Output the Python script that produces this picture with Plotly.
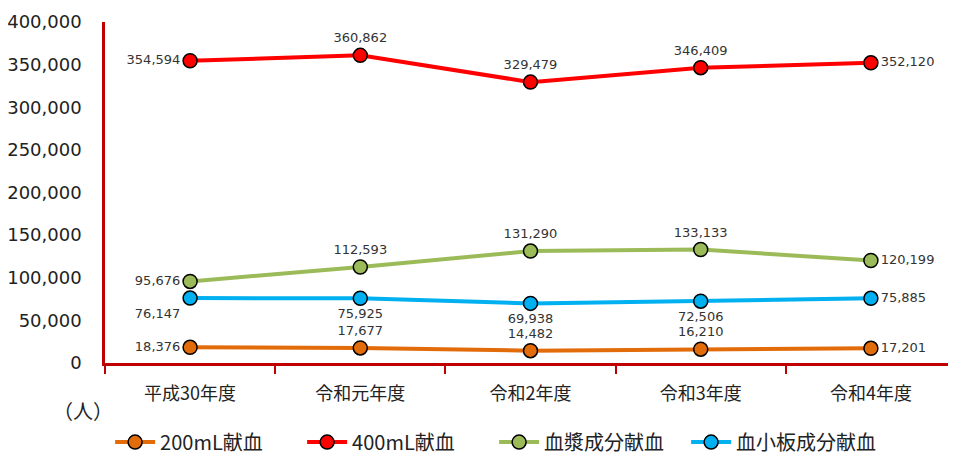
import plotly.graph_objects as go

categories = ["平成30年度", "令和元年度", "令和2年度", "令和3年度", "令和4年度"]
series_names = ["200mL献血", "400mL献血", "血漿成分献血", "血小板成分献血"]
v200 = [18376, 17677, 14482, 16210, 17201]
v400 = [354594, 360862, 329479, 346409, 352120]
plasma = [95676, 112593, 131290, 133133, 120199]
platelet = [76147, 75925, 69938, 72506, 75885]
y_ticks = [0, 50000, 100000, 150000, 200000, 250000, 300000, 350000, 400000]
unit_label = "（人）"

colors = ["#E36C0A", "#FF0000", "#9BBB59", "#00B0F0"]
positions = [
    ["middle left", "top center", "top center", "top center", "middle right"],
    ["middle left", "top center", "top center", "top center", "middle right"],
    ["middle left", "top center", "top center", "top center", "middle right"],
    ["bottom left", "bottom center", "bottom center", "bottom center", "middle right"],
]

FONT = "DejaVu Sans, Noto Sans CJK JP, sans-serif"
CJK = "Noto Sans CJK JP, sans-serif"
fig = go.Figure()
for name, vals, col, pos in zip(series_names, [v200, v400, plasma, platelet], colors, positions):
    fig.add_trace(go.Scatter(
        x=categories, y=vals, name=name, mode="lines+markers+text",
        line=dict(color=col, width=4),
        marker=dict(size=14, color=col, line=dict(color="black", width=1.5)),
        text=[f"{v:,}" for v in vals], textposition=pos,
        textfont=dict(family=FONT, size=13, color="#333333"),
        cliponaxis=False,
    ))

fig.update_layout(
    width=948, height=448,
    margin=dict(l=97, r=0, t=14, b=93, autoexpand=False),
    paper_bgcolor="white", plot_bgcolor="white",
    font=dict(family=FONT, color="#222222"),
    showlegend=True,
    legend=dict(orientation="h", x=0.006, y=-0.232, xanchor="left", yanchor="middle",
                font=dict(family=CJK, size=20, color="#222222"),
                itemwidth=40, tracegroupgap=0, entrywidth=137, entrywidthmode="pixels"),
    xaxis=dict(type="category", range=[-0.5, 4.5], tickson="boundaries", ticks="outside", ticklen=8,
               tickcolor="#C00000", tickwidth=2, showline=True, linecolor="#C00000",
               linewidth=2.5, showgrid=False, zeroline=False,
               tickfont=dict(family=CJK, size=18, color="#222222"),
               ticklabelstandoff=13),
    yaxis=dict(range=[0, 400000], tickvals=y_ticks, tickformat=",d", showline=True,
               linecolor="#C00000", linewidth=2.5, showgrid=False, zeroline=False,
               ticks="", tickfont=dict(family=FONT, size=18, color="#222222"),
               ticklabelstandoff=17),
)
fig.add_annotation(text=unit_label, xref="paper", yref="paper", x=-0.026, y=-0.138,
                   xanchor="center", yanchor="middle", showarrow=False,
                   font=dict(family=CJK, size=20, color="#222222"))

fig.write_html("out.html")
